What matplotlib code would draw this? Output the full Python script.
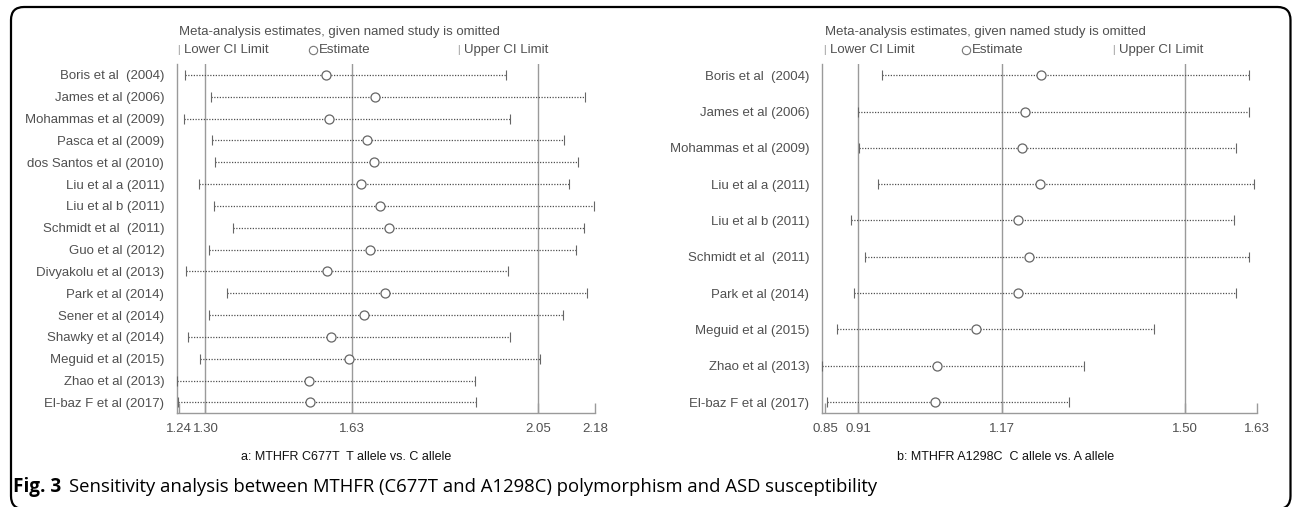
import matplotlib
matplotlib.use("Agg")
import matplotlib.pyplot as plt
from matplotlib.lines import Line2D
from matplotlib.patches import FancyBboxPatch
from matplotlib.transforms import IdentityTransform

plt.rcParams['font.family'] = ['Liberation Sans', 'DejaVu Sans']

# panel a: MTHFR C677T
studies_a = ["Boris et al  (2004)", "James et al (2006)", "Mohammas et al (2009)",
             "Pasca et al (2009)", "dos Santos et al (2010)", "Liu et al a (2011)",
             "Liu et al b (2011)", "Schmidt et al  (2011)", "Guo et al (2012)",
             "Divyakolu et al (2013)", "Park et al (2014)", "Sener et al (2014)",
             "Shawky et al (2014)", "Meguid et al (2015)", "Zhao et al (2013)",
             "El-baz F et al (2017)"]
lower_a = [1.254, 1.313, 1.251, 1.314, 1.321, 1.286, 1.319, 1.363,
           1.308, 1.257, 1.348, 1.307, 1.260, 1.287, 1.235, 1.237]
est_a = [1.573, 1.683, 1.578, 1.664, 1.681, 1.650, 1.694, 1.714,
         1.672, 1.575, 1.706, 1.658, 1.583, 1.625, 1.533, 1.537]
upper_a = [1.979, 2.157, 1.987, 2.110, 2.140, 2.121, 2.177, 2.155,
           2.137, 1.982, 2.161, 2.107, 1.987, 2.056, 1.909, 1.910]
ref_a = [1.30, 1.63, 2.05]
ticks_a = [1.24, 1.30, 1.63, 2.05, 2.18]
xlim_a = (1.235, 2.179)

# panel b: MTHFR A1298C
studies_b = ["Boris et al  (2004)", "James et al (2006)", "Mohammas et al (2009)",
             "Liu et al a (2011)", "Liu et al b (2011)", "Schmidt et al  (2011)",
             "Park et al (2014)", "Meguid et al (2015)", "Zhao et al (2013)",
             "El-baz F et al (2017)"]
lower_b = [0.953, 0.909, 0.912, 0.945, 0.897, 0.922, 0.903, 0.872, 0.845, 0.854]
est_b = [1.241, 1.212, 1.205, 1.239, 1.198, 1.219, 1.199, 1.122, 1.053, 1.049]
upper_b = [1.616, 1.616, 1.592, 1.625, 1.589, 1.616, 1.593, 1.445, 1.317, 1.290]
ref_b = [0.91, 1.17, 1.50]
ticks_b = [0.85, 0.91, 1.17, 1.50, 1.63]
xlim_b = (0.844, 1.624)

W, H = 1292, 507
GRID = '#9a9a9a'
TXT = '#505050'


def fx(px):
    return px / W


def fy(py):
    return 1 - py / H


def draw_panel(ax, studies, lower, est, upper, ref, ticks, xlim, pad_rows):
    n = len(studies)
    ys = list(range(n))
    for r in ref:
        ax.axvline(r, color=GRID, lw=1.0, zorder=1)
    ax.hlines(ys, lower, upper, colors='#505050', lw=0.9,
              linestyles=(0, (1, 1.2)), zorder=2)
    ax.plot(lower, ys, ls='none', marker='|', ms=7, mew=0.8, color='#666666', zorder=3, clip_on=False)
    ax.plot(upper, ys, ls='none', marker='|', ms=7, mew=0.8, color='#666666', zorder=3, clip_on=False)
    ax.plot(est, ys, ls='none', marker='o', ms=6.5, mew=0.9, mfc='white',
            mec='#666666', zorder=4)
    ax.set_xlim(*xlim)
    ax.set_ylim(n - 1 + pad_rows, -pad_rows)
    ax.set_yticks(ys, studies)
    ax.set_xticks(ticks, ['%.2f' % t for t in ticks])
    ax.tick_params(axis='y', length=0, pad=9, labelsize=9.5, labelcolor=TXT)
    ax.tick_params(axis='x', direction='in', length=7, color=GRID, width=1.0,
                   pad=7, labelsize=9.5, labelcolor=TXT)
    for s in ['top', 'right']:
        ax.spines[s].set_visible(False)
    for s in ['left', 'bottom']:
        ax.spines[s].set_color(GRID)
        ax.spines[s].set_linewidth(1.0)


fig = plt.figure(figsize=(W / 100, H / 100), dpi=100)

ax_a = fig.add_axes([fx(176.7), fy(413.3), fx(595.3 - 176.7), (413.3 - 64) / H])
draw_panel(ax_a, studies_a, lower_a, est_a, upper_a, ref_a, ticks_a, xlim_a, 0.5)

ax_b = fig.add_axes([fx(821.7), fy(413.3), fx(1256.8 - 821.7), (413.3 - 64) / H])
draw_panel(ax_b, studies_b, lower_b, est_b, upper_b, ref_b, ticks_b, xlim_b, 0.31)

# headers and legend rows
for x0, xe, xu in [(178, 313, 458), (824, 966, 1113)]:
    fig.text(fx(x0 + 1), fy(32), "Meta-analysis estimates, given named study is omitted",
             fontsize=9.5, color=TXT, va='center', ha='left')
    fig.text(fx(x0), fy(50), "| ", fontsize=7, color='#888888', va='center', ha='left')
    fig.text(fx(x0 + 6), fy(50), "Lower CI Limit", fontsize=9.5, color=TXT, va='center', ha='left')
    fig.add_artist(Line2D([fx(xe)], [fy(50)], transform=fig.transFigure, ls='none',
                          marker='o', ms=6, mew=0.8, mfc='white', mec='#777777'))
    fig.text(fx(xe + 6), fy(50), "Estimate", fontsize=9.5, color=TXT, va='center', ha='left')
    fig.text(fx(xu), fy(50), "| ", fontsize=7, color='#888888', va='center', ha='left')
    fig.text(fx(xu + 6), fy(50), "Upper CI Limit", fontsize=9.5, color=TXT, va='center', ha='left')

fig.text(fx(346), fy(457), "a: MTHFR C677T  T allele vs. C allele", fontsize=9,
         color='#111111', ha='center', va='center')
fig.text(fx(1006), fy(457), "b: MTHFR A1298C  C allele vs. A allele", fontsize=9,
         color='#111111', ha='center', va='center')

# caption
fig.text(fx(13), fy(487), "Fig. 3", fontsize=13.6, fontweight='bold',
         family=['Open Sans', 'DejaVu Sans'], va='center', ha='left')
fig.text(fx(69), fy(487),
         "Sensitivity analysis between MTHFR (C677T and A1298C) polymorphism and ASD susceptibility",
         fontsize=13.3, family=['Open Sans', 'DejaVu Sans'], va='center', ha='left')

# rounded frame
frame = FancyBboxPatch((11, -2), 1290.5 - 11, 500 + 2,
                       boxstyle="round,pad=0,rounding_size=13",
                       transform=IdentityTransform(), fill=False,
                       ec='black', lw=1.6, clip_on=False)
fig.patches.append(frame)

fig.savefig("out.png", dpi=100)
plt.close(fig)
